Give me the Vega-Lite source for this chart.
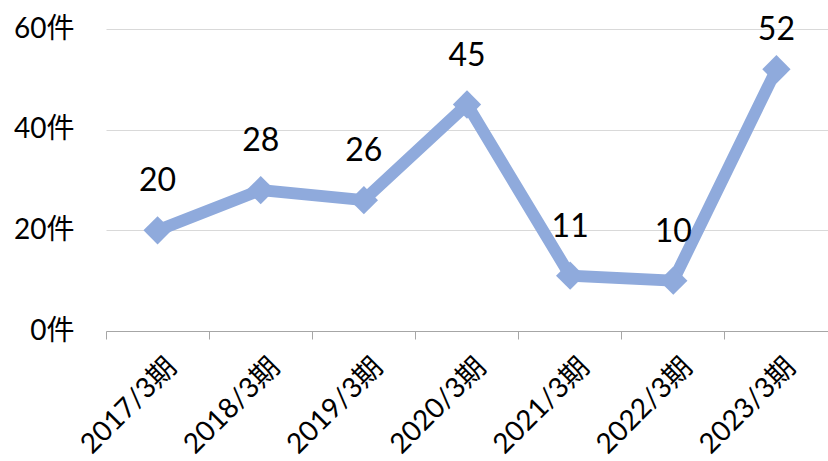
{
  "$schema": "https://vega.github.io/schema/vega-lite/v6.json",
  "width": 722,
  "height": 302,
  "autosize": {"type": "none"},
  "padding": {"left": 106, "top": 29, "right": 0, "bottom": 130},
  "background": "white",
  "config": {"view": {"stroke": null}, "font": "Lato, Noto Sans CJK JP"},
  "data": {"values": [
    {"period": "2017/3期", "count": 20},
    {"period": "2018/3期", "count": 28},
    {"period": "2019/3期", "count": 26},
    {"period": "2020/3期", "count": 45},
    {"period": "2021/3期", "count": 11},
    {"period": "2022/3期", "count": 10},
    {"period": "2023/3期", "count": 52}
  ]},
  "encoding": {
    "x": {
      "field": "period", "type": "nominal", "sort": null,
      "scale": {"type": "band", "paddingInner": 0, "paddingOuter": 0},
      "axis": {"title": null, "labelAngle": -45, "labelFontSize": 28, "labelColor": "#000000",
        "domainColor": "#a6a6a6", "tickColor": "#a6a6a6", "tickSize": 8, "bandPosition": 0,
        "labelPadding": 14, "labelOffset": 5, "grid": false}
    },
    "y": {
      "field": "count", "type": "quantitative", "scale": {"domain": [0, 60]},
      "axis": {"title": null, "values": [0, 20, 40, 60], "labelExpr": "datum.value + '件'",
        "domain": false, "ticks": false, "labelPadding": 32, "labelFontSize": 28,
        "gridColor": "#d9d9d9", "labelColor": "#000000"}
    }
  },
  "layer": [
    {"mark": {"type": "line", "color": "#8FAADC", "strokeWidth": 12}},
    {"mark": {"type": "point", "shape": "diamond", "filled": true, "size": 800, "color": "#8FAADC", "opacity": 1}},
    {"transform": [{"filter": "datum.count <= 50"}],
     "mark": {"type": "text", "dy": -49, "fontSize": 32, "color": "#000000"},
     "encoding": {"text": {"field": "count"}}},
    {"transform": [{"filter": "datum.count > 50"}],
     "mark": {"type": "text", "dy": -39, "fontSize": 32, "color": "#000000"},
     "encoding": {"text": {"field": "count"}}}
  ]
}
